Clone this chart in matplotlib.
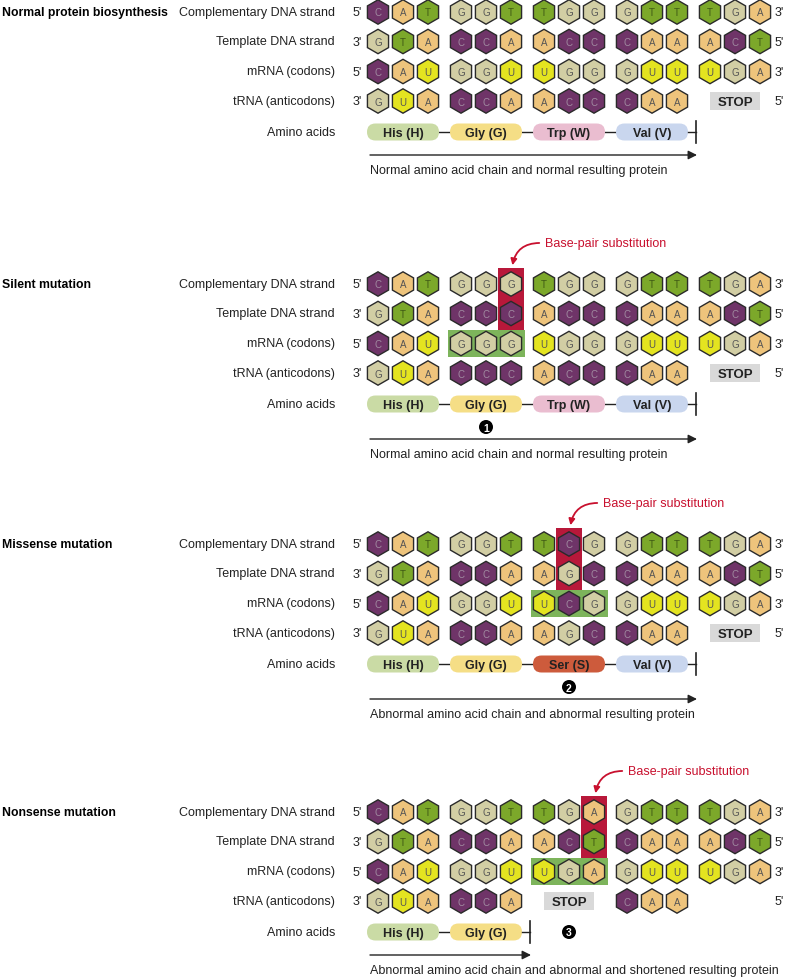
import matplotlib
matplotlib.use("Agg")
import matplotlib.pyplot as plt
from matplotlib.patches import RegularPolygon, FancyBboxPatch, Rectangle, Circle, FancyArrowPatch

plt.rcParams['font.family'] = ['Liberation Sans', 'DejaVu Sans']

# ---------------- data ----------------
row_labels = ["Complementary DNA strand", "Template DNA strand", "mRNA (codons)", "tRNA (anticodons)"]
left_ends = ["5'", "3'", "5'", "3'"]
right_ends = ["3'", "5'", "3'", "5'"]

titles = ["Normal protein biosynthesis", "Silent mutation", "Missense mutation", "Nonsense mutation"]

comp_normal = ["CAT", "GGT", "TGG", "GTT", "TGA"]
tmpl_normal = ["GTA", "CCA", "ACC", "CAA", "ACT"]
mrna_normal = ["CAU", "GGU", "UGG", "GUU", "UGA"]
trna_normal = ["GUA", "CCA", "ACC", "CAA", "STOP"]
amino_normal = ["His (H)", "Gly (G)", "Trp (W)", "Val (V)"]

comp_silent = ["CAT", "GGG", "TGG", "GTT", "TGA"]
tmpl_silent = ["GTA", "CCC", "ACC", "CAA", "ACT"]
mrna_silent = ["CAU", "GGG", "UGG", "GUU", "UGA"]
trna_silent = ["GUA", "CCC", "ACC", "CAA", "STOP"]
amino_silent = ["His (H)", "Gly (G)", "Trp (W)", "Val (V)"]

comp_missense = ["CAT", "GGT", "TCG", "GTT", "TGA"]
tmpl_missense = ["GTA", "CCA", "AGC", "CAA", "ACT"]
mrna_missense = ["CAU", "GGU", "UCG", "GUU", "UGA"]
trna_missense = ["GUA", "CCA", "AGC", "CAA", "STOP"]
amino_missense = ["His (H)", "Gly (G)", "Ser (S)", "Val (V)"]

comp_nonsense = ["CAT", "GGT", "TGA", "GTT", "TGA"]
tmpl_nonsense = ["GTA", "CCA", "ACT", "CAA", "ACT"]
mrna_nonsense = ["CAU", "GGU", "UGA", "GUU", "UGA"]
trna_nonsense = ["GUA", "CCA", "STOP", "CAA", ""]
amino_nonsense = ["His (H)", "Gly (G)"]

captions = ["Normal amino acid chain and normal resulting protein",
            "Normal amino acid chain and normal resulting protein",
            "Abnormal amino acid chain and abnormal resulting protein",
            "Abnormal amino acid chain and abnormal and shortened resulting protein"]

mutation_col = [None, 5, 7, 8]      # base index of the substitution
marker_num = [None, "1", "2", "3"]
marker_codon = [None, 1, 2, 2]

base_colors = {"C": "#6F3468", "A": "#EEC47C", "T": "#7CA82A", "G": "#D2CEA4", "U": "#E4E420"}
letter_colors = {"C": "#A08AA0", "A": "#555555", "T": "#3F5A15", "G": "#555555", "U": "#555555"}
amino_colors = {"His (H)": "#CADBA5", "Gly (G)": "#F5DE86", "Trp (W)": "#EABDD0",
                "Val (V)": "#C9D6EE", "Ser (S)": "#CD5B3C"}

# ---------------- layout ----------------
fig = plt.figure(figsize=(7.87, 9.78), dpi=100)
ax = fig.add_axes([0, 0, 1, 1])
ax.set_xlim(0, 787)
ax.set_ylim(978, 0)
ax.set_aspect('equal')
ax.axis('off')

x0 = 378.0       # first base centre
dx_base = 25.0
dx_codon = 83.0
row_dy = [0, 29.5, 59.5, 89]
sec_top = [13, 285, 545, 813]
label_x = 335
red = "#C8102E"
fs = 9


def base_x(i):
    return x0 + (i // 3) * dx_codon + (i % 3) * dx_base


def codon_x(k):
    return x0 + k * dx_codon + dx_base


sections = [
    (comp_normal, tmpl_normal, mrna_normal, trna_normal, amino_normal),
    (comp_silent, tmpl_silent, mrna_silent, trna_silent, amino_silent),
    (comp_missense, tmpl_missense, mrna_missense, trna_missense, amino_missense),
    (comp_nonsense, tmpl_nonsense, mrna_nonsense, trna_nonsense, amino_nonsense),
]

for s, (comp, tmpl, mrna, trna, amino) in enumerate(sections):
    top = sec_top[s]
    rows_y = [top + d for d in row_dy]
    amino_y = top + 120
    has_marker = s in (1, 2)
    arrow_y = top + (155 if has_marker else 143)
    cap_y = arrow_y + 15

    ax.text(2, top, titles[s], fontsize=8.8, fontweight='bold', ha='left', va='center')

    # mutation highlight boxes (drawn beneath hexes)
    mc = mutation_col[s]
    if mc is not None:
        cx = base_x(mc)
        ax.add_patch(Rectangle((cx - 13, top - 16), 26, rows_y[1] + 16 - (top - 16),
                               facecolor="#B8183A", edgecolor='none', zorder=1))
        ccx = codon_x(mc // 3)
        ax.add_patch(Rectangle((ccx - 38.5, rows_y[2] - 13.5), 77, 27,
                               facecolor="#7DB45B", edgecolor='none', zorder=1))
        ly = top - 41
        ax.text(cx + 34, ly, "Base-pair substitution", color=red, fontsize=fs,
                ha='left', va='center')
        arr = FancyArrowPatch((cx + 31, ly), (cx + 1, top - 16),
                              connectionstyle="arc3,rad=0.45", arrowstyle='-|>',
                              mutation_scale=9, color=red, lw=1.3, zorder=3)
        ax.add_patch(arr)

    strands = [comp, tmpl, mrna, trna]
    for r, strand in enumerate(strands):
        y = rows_y[r]
        ax.text(label_x, y, row_labels[r], fontsize=fs, ha='right', va='center', color='#222222')
        ax.text(357, y, left_ends[r], fontsize=fs, ha='center', va='center', color='#222222')
        ax.text(779, y, right_ends[r], fontsize=fs, ha='center', va='center', color='#222222')
        for k, codon in enumerate(strand):
            if codon == "STOP":
                cx = codon_x(k)
                ax.add_patch(Rectangle((cx - 25, y - 9), 50, 18, facecolor="#D9D9D9",
                                       edgecolor='none', zorder=2))
                ax.text(cx, y + 0.5, "STOP", fontsize=9.5, fontweight='bold', ha='center',
                        va='center', color='#222222', zorder=3)
                continue
            for j, b in enumerate(codon):
                bx = base_x(3 * k + j)
                ax.add_patch(RegularPolygon((bx, y), numVertices=6, radius=12.2,
                                            orientation=0, facecolor=base_colors[b],
                                            edgecolor='#2A2A2A', lw=1.0, zorder=2))
                ax.text(bx, y + 0.5, b, fontsize=7, ha='center', va='center',
                        color=letter_colors[b], zorder=3)

    # amino acids
    ax.text(label_x, amino_y, "Amino acids", fontsize=fs, ha='right', va='center', color='#222222')
    pill_w, pill_h = 72, 17
    last_right = None
    for k, aa in enumerate(amino):
        cx = codon_x(k)
        ax.add_patch(FancyBboxPatch((cx - pill_w / 2, amino_y - pill_h / 2), pill_w, pill_h,
                                    boxstyle="round,pad=0,rounding_size=8.5",
                                    facecolor=amino_colors[aa], edgecolor='none', zorder=2))
        ax.text(cx, amino_y + 0.5, aa, fontsize=fs, fontweight='bold', ha='center',
                va='center', color='#222222', zorder=3)
        if k > 0:
            ax.plot([last_right, cx - pill_w / 2], [amino_y, amino_y], color='#222222', lw=1, zorder=1)
        last_right = cx + pill_w / 2
    end_x = last_right + 8
    ax.plot([last_right, end_x], [amino_y, amino_y], color='#222222', lw=1)
    ax.plot([end_x, end_x], [amino_y - 11, amino_y + 11], color='#222222', lw=1.2)

    # marker
    if marker_num[s] is not None:
        mx = codon_x(marker_codon[s])
        my = amino_y if s == 3 else amino_y + 23
        ax.add_patch(Circle((mx, my), 7, facecolor='black', edgecolor='none', zorder=3))
        ax.text(mx, my + 0.5, marker_num[s], fontsize=7.5, fontweight='bold', color='white',
                ha='center', va='center', zorder=4)

    # arrow
    ax.annotate("", xy=(end_x + 1, arrow_y), xytext=(370, arrow_y),
                arrowprops=dict(arrowstyle='-|>', color='#222222', lw=1.0,
                                mutation_scale=13, shrinkA=0, shrinkB=0))
    ax.text(370, cap_y, captions[s], fontsize=fs, ha='left', va='center', color='#222222')

fig.savefig("out.png", dpi=100)
